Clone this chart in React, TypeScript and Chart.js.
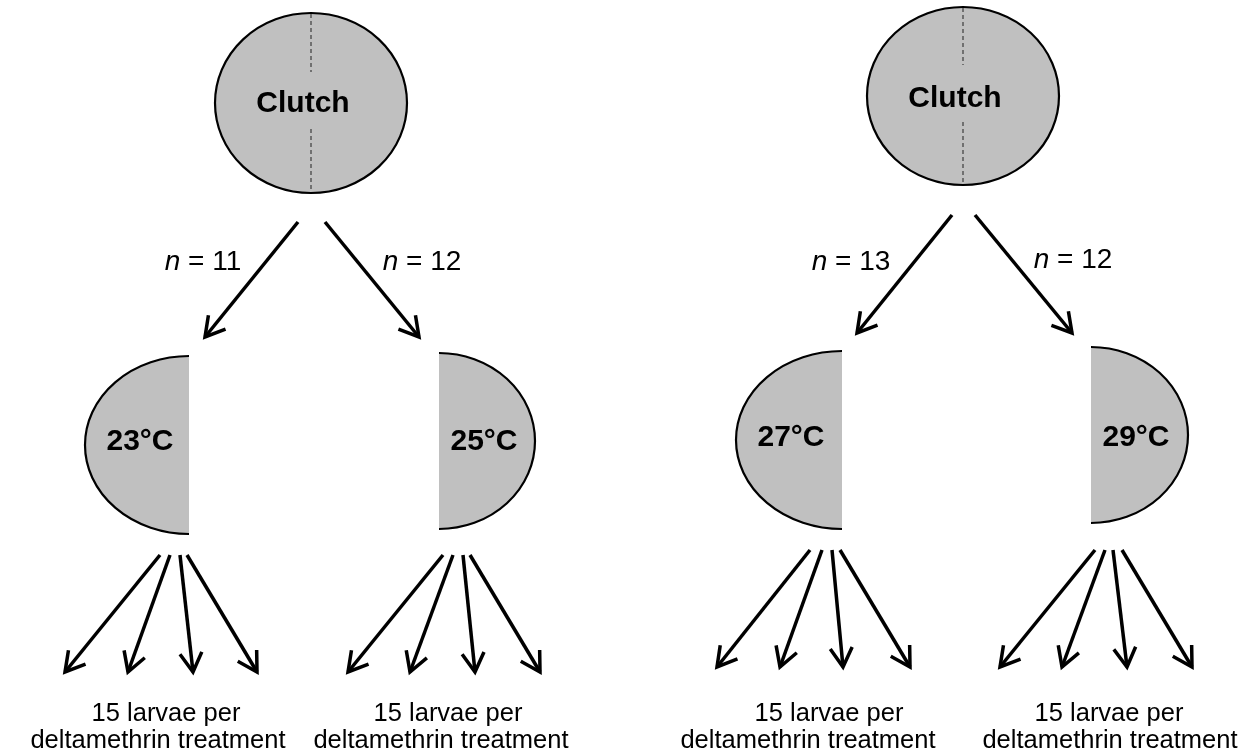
import React, { useEffect, useRef } from "react";
import { Chart, registerables } from "chart.js";

Chart.register(...registerables);

// ---- diagram data (diagram coordinates) ----
const clutchCx = [311, 963];
const clutchCy = [103, 96];
const clutchRx = [96, 96];
const clutchRy = [90, 89];
const clutchLabel = "Clutch";
const clutchLabelX = [303, 955];
const clutchLabelY = [104, 99];

const tempLabels = ["23°C", "25°C", "27°C", "29°C"];
const tempEdgeX = [189, 439, 842, 1091];
const tempCy = [445, 441, 440, 435];
const tempRx = [104, 96, 106, 97];
const tempRy = [89, 88, 89, 88];
const tempSide = [-1, 1, -1, 1];
const tempLabelX = [140, 484, 791, 1136];
const tempLabelY = [442, 442, 438, 438];

const nCounts = [11, 12, 13, 12];
const nLabelX = [203, 422, 851, 1073];
const nLabelY = [262, 262, 262, 260];
const splitStartX = [298, 325, 952, 975];
const splitStartY = [222, 222, 215, 215];
const splitEndX = [205, 419, 857, 1072];
const splitEndY = [337, 337, 333, 333];

const fanStartX = [
  [160, 170, 180, 187],
  [443, 453, 463, 470],
  [810, 822, 832, 840],
  [1095, 1105, 1113, 1122],
];
const fanStartY = [555, 555, 550, 550];
const fanEndX = [
  [65, 128, 193, 257],
  [348, 410, 475, 540],
  [717, 780, 843, 910],
  [1000, 1062, 1127, 1192],
];
const fanEndY = [672, 672, 667, 667];

const captionLine1 = "15 larvae per";
const captionLine2 = "deltamethrin treatment";
const captionX1 = [166, 448, 829, 1109];
const captionX2 = [158, 441, 808, 1110];
const captionY1 = [714, 714, 714, 714];
const captionY2 = [741, 741, 741, 741];

const W = 1256;
const H = 753;
const FONT = '"Liberation Sans", Arial, Helvetica, sans-serif';
const FILL = "#c0c0c0";

export default function App() {
  const ref = useRef<HTMLCanvasElement | null>(null);

  useEffect(() => {
    const canvas = ref.current;
    if (!canvas) return;

    // arrow shafts as line datasets
    const arrows: { x0: number; y0: number; x1: number; y1: number }[] = [];
    for (let i = 0; i < splitStartX.length; i++) {
      arrows.push({ x0: splitStartX[i], y0: splitStartY[i], x1: splitEndX[i], y1: splitEndY[i] });
    }
    for (let g = 0; g < fanStartX.length; g++) {
      for (let k = 0; k < fanStartX[g].length; k++) {
        arrows.push({ x0: fanStartX[g][k], y0: fanStartY[g], x1: fanEndX[g][k], y1: fanEndY[g] });
      }
    }

    const datasets: any[] = arrows.map((a) => ({
      type: "line",
      data: [
        { x: a.x0, y: a.y0 },
        { x: a.x1, y: a.y1 },
      ],
      borderColor: "#000",
      borderWidth: 3.5,
      pointRadius: 0,
      showLine: true,
      fill: false,
      tension: 0,
      borderCapStyle: "butt",
      clip: false,
    }));

    const diagramPlugin = {
      id: "diagram",
      beforeDatasetsDraw(chart: any) {
        const ctx = chart.ctx as CanvasRenderingContext2D;
        const xs = chart.scales.x;
        const ys = chart.scales.y;
        const px = (v: number) => xs.getPixelForValue(v);
        const py = (v: number) => ys.getPixelForValue(v);

        ctx.save();
        // clutch ellipses
        for (let i = 0; i < clutchCx.length; i++) {
          const cx = px(clutchCx[i]);
          const cy = py(clutchCy[i]);
          const rx = Math.abs(px(clutchCx[i] + clutchRx[i]) - cx);
          const ry = Math.abs(py(clutchCy[i] + clutchRy[i]) - cy);
          ctx.beginPath();
          ctx.ellipse(cx, cy, rx, ry, 0, 0, Math.PI * 2);
          ctx.fillStyle = FILL;
          ctx.fill();
          ctx.lineWidth = 2.2;
          ctx.strokeStyle = "#000";
          ctx.stroke();
          // dashed divider
          ctx.save();
          ctx.setLineDash([4, 3]);
          ctx.lineWidth = 1.5;
          ctx.strokeStyle = "#555";
          ctx.beginPath();
          ctx.moveTo(cx, cy - ry + 1);
          ctx.lineTo(cx, cy - 31);
          ctx.moveTo(cx, cy + 26);
          ctx.lineTo(cx, cy + ry - 1);
          ctx.stroke();
          ctx.restore();
          ctx.fillStyle = "#000";
          ctx.font = `bold 30px ${FONT}`;
          ctx.textAlign = "center";
          ctx.textBaseline = "middle";
          ctx.fillText(clutchLabel, px(clutchLabelX[i]), py(clutchLabelY[i]));
        }

        // temperature half ellipses
        for (let i = 0; i < tempLabels.length; i++) {
          const ex = px(tempEdgeX[i]);
          const cy = py(tempCy[i]);
          const rx = Math.abs(px(tempEdgeX[i] + tempRx[i]) - ex);
          const ry = Math.abs(py(tempCy[i] + tempRy[i]) - cy);
          const a0 = tempSide[i] < 0 ? Math.PI / 2 : -Math.PI / 2;
          const a1 = tempSide[i] < 0 ? (3 * Math.PI) / 2 : Math.PI / 2;
          ctx.beginPath();
          ctx.ellipse(ex, cy, rx, ry, 0, a0, a1);
          ctx.closePath();
          ctx.fillStyle = FILL;
          ctx.fill();
          ctx.beginPath();
          ctx.ellipse(ex, cy, rx, ry, 0, a0, a1);
          ctx.lineWidth = 2.2;
          ctx.strokeStyle = "#000";
          ctx.stroke();
          ctx.fillStyle = "#000";
          ctx.font = `bold 30px ${FONT}`;
          ctx.textAlign = "center";
          ctx.textBaseline = "middle";
          ctx.fillText(tempLabels[i], px(tempLabelX[i]), py(tempLabelY[i]));
        }
        ctx.restore();
      },
      afterDatasetsDraw(chart: any) {
        const ctx = chart.ctx as CanvasRenderingContext2D;
        const xs = chart.scales.x;
        const ys = chart.scales.y;
        const px = (v: number) => xs.getPixelForValue(v);
        const py = (v: number) => ys.getPixelForValue(v);
        ctx.save();

        // arrow heads
        ctx.strokeStyle = "#000";
        ctx.lineWidth = 3.5;
        ctx.lineCap = "butt";
        ctx.lineJoin = "miter";
        for (const a of arrows) {
          const x0 = px(a.x0), y0 = py(a.y0), x1 = px(a.x1), y1 = py(a.y1);
          const ang = Math.atan2(y1 - y0, x1 - x0);
          const L = 22;
          const h = (30 * Math.PI) / 180;
          ctx.beginPath();
          ctx.moveTo(x1 - L * Math.cos(ang - h), y1 - L * Math.sin(ang - h));
          ctx.lineTo(x1, y1);
          ctx.lineTo(x1 - L * Math.cos(ang + h), y1 - L * Math.sin(ang + h));
          ctx.stroke();
        }

        // n labels
        ctx.fillStyle = "#000";
        ctx.textBaseline = "middle";
        ctx.textAlign = "left";
        for (let i = 0; i < nCounts.length; i++) {
          const italic = `italic 28px ${FONT}`;
          const normal = `28px ${FONT}`;
          const rest = ` = ${nCounts[i]}`;
          ctx.font = italic;
          const w1 = ctx.measureText("n").width;
          ctx.font = normal;
          const w2 = ctx.measureText(rest).width;
          const left = px(nLabelX[i]) - (w1 + w2) / 2;
          const y = py(nLabelY[i]);
          ctx.font = italic;
          ctx.fillText("n", left, y);
          ctx.font = normal;
          ctx.fillText(rest, left + w1, y);
        }

        // captions
        ctx.textAlign = "center";
        ctx.font = `25.5px ${FONT}`;
        for (let i = 0; i < captionX1.length; i++) {
          ctx.fillText(captionLine1, px(captionX1[i]), py(captionY1[i]));
          ctx.fillText(captionLine2, px(captionX2[i]), py(captionY2[i]));
        }
        ctx.restore();
      },
    };

    const chart = new Chart(canvas, {
      type: "scatter",
      data: { datasets },
      options: {
        animation: false,
        responsive: false,
        maintainAspectRatio: false,
        devicePixelRatio: 1,
        layout: { padding: 0 },
        plugins: {
          legend: { display: false },
          tooltip: { enabled: false },
          title: { display: false },
        },
        events: [],
        scales: {
          x: { type: "linear", min: 0, max: W, display: false },
          y: { type: "linear", min: 0, max: H, reverse: true, display: false },
        },
      },
      plugins: [diagramPlugin],
    } as any);

    return () => chart.destroy();
  }, []);

  return (
    <div style={{ position: "fixed", left: 0, top: 0, width: W, height: H, background: "#fff" }}>
      <canvas ref={ref} width={W} height={H} style={{ display: "block" }} />
    </div>
  );
}
